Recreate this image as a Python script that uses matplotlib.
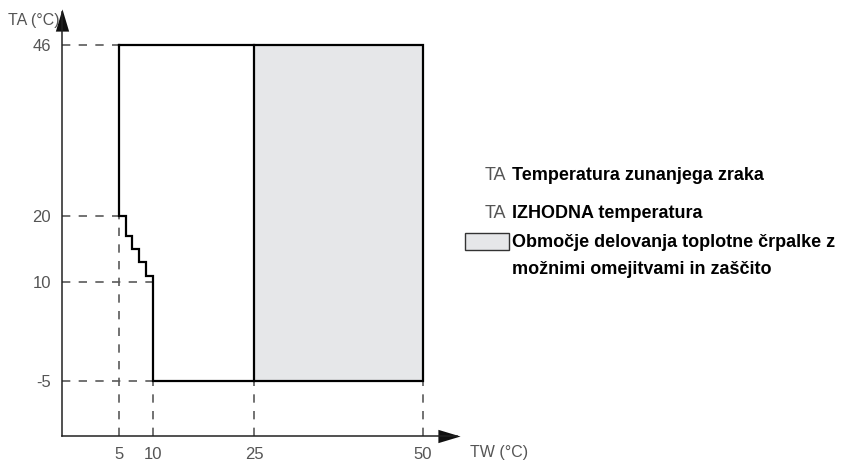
import matplotlib.pyplot as plt

# obmocje delovanja (TW, TA)
tw_outline = [5, 5, 6, 6, 7, 7, 8, 8, 9, 9, 10, 10, 50, 50, 5]
ta_outline = [46, 20, 20, 17, 17, 15, 15, 13, 13, 11, 11, -5, -5, 46, 46]
tw_split = 25
tw_max = 50
ta_min, ta_max = -5, 46

x_ticks = [5, 10, 25, 50]
y_ticks = [46, 20, 10, -5]

legend_rows = [
    ('TA', 'Temperatura zunanjega zraka'),
    ('TA', 'IZHODNA temperatura'),
]
legend_area = 'Območje delovanja toplotne črpalke z\nmožnimi omejitvami in zaščito'

FONT = ['Liberation Sans Narrow', 'Liberation Sans', 'DejaVu Sans']
GREY_TXT = '#555555'
DASH_C = '#5a5a5a'

fig = plt.figure(figsize=(8.64, 4.62), dpi=100)
ax = fig.add_axes([62 / 864, 26 / 462, 395 / 864, 424 / 462])
ax.set_xlim(-3.44, 55.06)
ax.set_ylim(-13.35, 51.0)

for s in ['top', 'right']:
    ax.spines[s].set_visible(False)
for s in ['left', 'bottom']:
    ax.spines[s].set_linewidth(1.1)
    ax.spines[s].set_color('#222222')

# puscice na oseh (podolgovat trikotnik)
up_tri = [(0, 0.5), (-0.3, -0.5), (0.3, -0.5), (0, 0.5)]
right_tri = [(0.5, 0), (-0.5, 0.3), (-0.5, -0.3), (0.5, 0)]
ax.plot(1 - 8 / 395, 0, marker=right_tri, color='#111111', ms=16,
        transform=ax.transAxes, clip_on=False, markeredgewidth=0)
ax.plot(0, 1 - 8 / 424, marker=up_tri, color='#111111', ms=16,
        transform=ax.transAxes, clip_on=False, markeredgewidth=0)

# sivo obmocje
ax.fill_between([tw_split, tw_max], ta_min, ta_max, color='#e6e7e9', lw=0)

# crtkane pomozne crte
dkw = dict(color=DASH_C, lw=1.2, ls=(0, (5, 5)))
x0, y0 = ax.get_xlim()[0], ax.get_ylim()[0]
ax.plot([x0, 5], [46, 46], **dkw)
ax.plot([x0, 5], [20, 20], **dkw)
ax.plot([x0, 10], [10, 10], **dkw)
ax.plot([x0, 10], [-5, -5], **dkw)
ax.plot([5, 5], [y0, 20], **dkw)
for xv in [10, 25, 50]:
    ax.plot([xv, xv], [y0, -5], **dkw)

# obroba
ax.plot(tw_outline, ta_outline, color='black', lw=1.6, solid_joinstyle='miter')
ax.plot([tw_split, tw_split], [ta_min, ta_max], color='black', lw=1.6)

ax.set_xticks(x_ticks)
ax.set_yticks(y_ticks)
ax.set_xticklabels([str(v) for v in x_ticks])
ax.set_yticklabels([str(v) for v in y_ticks])
ax.tick_params(length=0, pad=8, labelcolor=GREY_TXT)
for lab in ax.get_xticklabels() + ax.get_yticklabels():
    lab.set_family(FONT)
    lab.set_fontsize(12)

fig.text(8 / 864, 1 - 20 / 462, 'TA (°C)', family=FONT, fontsize=11.5,
         color=GREY_TXT, va='center', ha='left')
fig.text(470 / 864, 1 - 452 / 462, 'TW (°C)', family=FONT, fontsize=11.5,
         color=GREY_TXT, va='center', ha='left')

# legenda
for i, (abbr, txt) in enumerate(legend_rows):
    yy = 1 - (175 + 38 * i) / 462
    fig.text(485 / 864, yy, abbr, family=FONT, fontsize=13, color=GREY_TXT,
             va='center', ha='left')
    fig.text(512 / 864, yy, txt, family=FONT, fontsize=13, weight='bold',
             color='black', va='center', ha='left')

fig.patches.append(plt.Rectangle((465 / 864, 1 - 250 / 462), 44 / 864, 17 / 462,
                                 transform=fig.transFigure, facecolor='#e6e7e9',
                                 edgecolor='#333333', lw=1))
fig.text(512 / 864, 1 - 256 / 462, legend_area, family=FONT, fontsize=13,
         weight='bold', color='black', va='center', ha='left', linespacing=1.75)

fig.savefig('out.png', dpi=100)
